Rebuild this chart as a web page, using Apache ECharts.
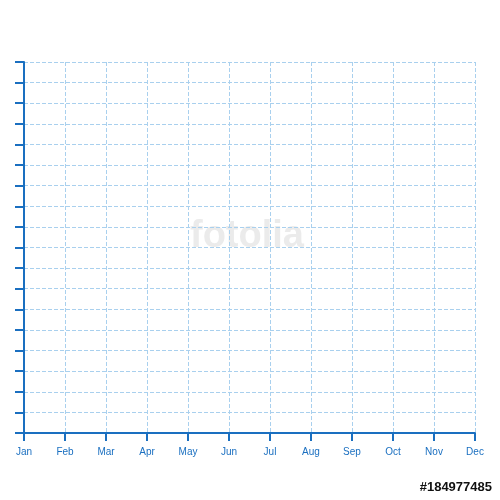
<!DOCTYPE html>
<html><head><meta charset="utf-8">
<script src="https://cdn.jsdelivr.net/npm/echarts@6/dist/echarts.min.js"></script>
<style>body{margin:0}#main{width:500px;height:500px}</style>
</head><body><div id="main"></div>
<script>
var months = ['Jan','Feb','Mar','Apr','May','Jun','Jul','Aug','Sep','Oct','Nov','Dec'];
var yMin = 0, yMax = 18, yStep = 1;
var blue = '#1a6fc0';
var chart = echarts.init(document.getElementById('main'));
chart.setOption({
    animation: false,
    grid: {left: 24, right: 25, top: 62, bottom: 67},
    graphic: [
        {type: 'text', left: 190, top: 218, style: {text: 'fotolia', fill: 'rgba(215,215,215,0.5)', font: 'bold 38px Arial'}},
        {type: 'text', right: 8, top: 481, style: {text: '#184977485', fill: '#111', font: 'bold 13px Arial'}}
    ],
    xAxis: {
        type: 'category', data: months, boundaryGap: false,
        axisLine: {lineStyle: {color: blue, width: 2}},
        axisTick: {show: true, inside: false, length: 8, lineStyle: {color: blue, width: 2}},
        axisLabel: {color: blue, fontSize: 10, margin: 14, fontFamily: 'Arial'},
        splitLine: {show: true, lineStyle: {color: '#a9d0ee', type: 'dashed', width: 1}}
    },
    yAxis: {
        type: 'value', min: yMin, max: yMax, interval: yStep,
        axisLine: {show: true, lineStyle: {color: blue, width: 2}},
        axisTick: {show: true, length: 9, lineStyle: {color: blue, width: 2}},
        axisLabel: {show: false},
        splitLine: {show: true, lineStyle: {color: '#a9d0ee', type: 'dashed', width: 1}}
    },
    series: [{type: 'line', data: []}]
});
</script></body></html>
